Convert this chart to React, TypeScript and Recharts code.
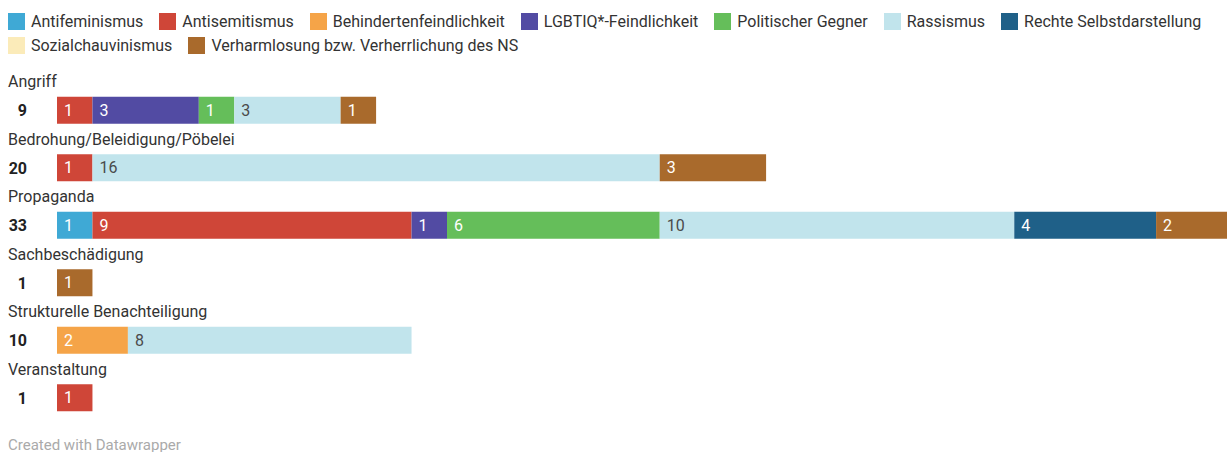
import { BarChart, Bar, XAxis, YAxis, LabelList } from 'recharts';

const categories = [
  'Angriff',
  'Bedrohung/Beleidigung/Pöbelei',
  'Propaganda',
  'Sachbeschädigung',
  'Strukturelle Benachteiligung',
  'Veranstaltung',
];

const antifeminismus = [0, 0, 1, 0, 0, 0];
const antisemitismus = [1, 1, 9, 0, 0, 1];
const behindertenfeindlichkeit = [0, 0, 0, 0, 2, 0];
const lgbtiqFeindlichkeit = [3, 0, 1, 0, 0, 0];
const politischerGegner = [1, 0, 6, 0, 0, 0];
const rassismus = [3, 16, 10, 0, 8, 0];
const rechteSelbstdarstellung = [0, 0, 4, 0, 0, 0];
const sozialchauvinismus = [0, 0, 0, 0, 0, 0];
const verharmlosung = [1, 3, 2, 1, 0, 0];

const SERIES = [
  { key: 'Antifeminismus', values: antifeminismus, color: '#3fa9d5', text: '#ffffff' },
  { key: 'Antisemitismus', values: antisemitismus, color: '#cf4638', text: '#ffffff' },
  { key: 'Behindertenfeindlichkeit', values: behindertenfeindlichkeit, color: '#f5a448', text: '#ffffff' },
  { key: 'LGBTIQ*-Feindlichkeit', values: lgbtiqFeindlichkeit, color: '#524ba3', text: '#ffffff' },
  { key: 'Politischer Gegner', values: politischerGegner, color: '#65be5a', text: '#ffffff' },
  { key: 'Rassismus', values: rassismus, color: '#c1e4ec', text: '#4a4a4a' },
  { key: 'Rechte Selbstdarstellung', values: rechteSelbstdarstellung, color: '#1f6088', text: '#ffffff' },
  { key: 'Sozialchauvinismus', values: sozialchauvinismus, color: '#fbebb9', text: '#4a4a4a' },
  { key: 'Verharmlosung bzw. Verherrlichung des NS', values: verharmlosung, color: '#a96a2c', text: '#ffffff' },
];

const data = categories.map((name, i) => {
  const row: Record<string, string | number> = { name };
  let total = 0;
  SERIES.forEach(s => {
    row[s.key] = s.values[i];
    total += s.values[i];
  });
  row.total = total;
  return row;
});

const totalsByName: Record<string, number> = {};
data.forEach(d => {
  totalsByName[d.name as string] = d.total as number;
});

const FONT = 'Roboto, "Noto Sans", sans-serif';

function CategoryTick(props: any) {
  const { y, payload } = props;
  return (
    <g>
      <text x={8} y={y - 29} dy="0.35em" fontSize={16} fill="#333" fontFamily={FONT}>
        {payload.value}
      </text>
      <text x={27} y={y} dy="0.35em" textAnchor="end" fontSize={16} fontWeight={700} fill="#222" fontFamily={FONT}>
        {totalsByName[payload.value]}
      </text>
    </g>
  );
}

function makeLabel(color: string) {
  return (props: any) => {
    const { x, y, height, value } = props;
    if (!value) return null;
    return (
      <text x={x + 7} y={y + height / 2} dy="0.35em" fontSize={16} fill={color} fontFamily={FONT}>
        {value}
      </text>
    );
  };
}

export default function App() {
  return (
    <div style={{ position: 'relative', width: 1228, height: 452, fontFamily: FONT, background: '#fff' }}>
      <style>{'body{margin:0}'}</style>
      {/* Legend */}
      <div
        style={{
          position: 'absolute',
          left: 8,
          top: 9,
          width: 1215,
          display: 'flex',
          flexWrap: 'wrap',
          fontSize: 16,
          color: '#333',
        }}
      >
        {SERIES.map(s => (
          <div key={s.key} style={{ display: 'flex', alignItems: 'center', height: 24, marginRight: 16 }}>
            <span style={{ width: 17, height: 17, background: s.color, marginRight: 6, display: 'inline-block' }} />
            <span>{s.key}</span>
          </div>
        ))}
      </div>

      <div style={{ position: 'absolute', left: 0, top: 0 }}>
        <BarChart
          width={1228}
          height={452}
          data={data}
          layout="vertical"
          margin={{ top: 81.75, right: 1, bottom: 25.25, left: 0 }}
        >
          <XAxis type="number" domain={[0, 33]} hide />
          <YAxis
            type="category"
            dataKey="name"
            width={57}
            axisLine={false}
            tickLine={false}
            tick={<CategoryTick />}
            interval={0}
          />
          {SERIES.map(s => (
            <Bar key={s.key} dataKey={s.key} stackId="a" fill={s.color} barSize={27} isAnimationActive={false}>
              <LabelList dataKey={s.key} content={makeLabel(s.text)} />
            </Bar>
          ))}
        </BarChart>
      </div>

      <div style={{ position: 'absolute', left: 8, top: 436, fontSize: 15, color: '#aaa' }}>
        Created with Datawrapper
      </div>
    </div>
  );
}
